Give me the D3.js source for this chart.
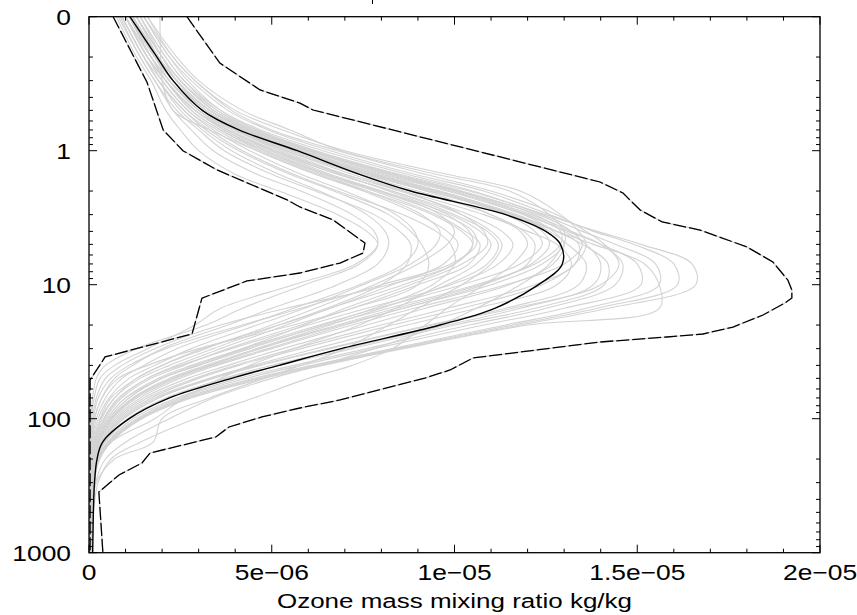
<!DOCTYPE html>
<html>
<head>
<meta charset="utf-8">
<script src="https://cdn.jsdelivr.net/npm/d3@7"></script>
<style>
  html, body { margin: 0; padding: 0; background: #fff; }
  svg { display: block; }
  text { font-family: "Liberation Sans", Arial, Helvetica, sans-serif; fill: #000; }
</style>
</head>
<body>
<svg id="chart" width="857" height="615"></svg>
<script>
// Ozone mass mixing ratio profiles vs pressure (hPa), values in units of 1e-6 kg/kg
const UNIT = 1e-6;

const levels = [0.1, 0.2, 0.3, 0.5, 0.7, 1, 1.5, 2, 3, 4, 5, 7, 10, 15, 20, 30, 40, 50, 70, 100, 150, 200, 300, 500, 700, 1000];

// ensemble mean
const meanProfile = [1.12, 1.86, 2.3, 3.1, 4.1, 5.7, 7.4, 8.8, 11.4, 12.5, 12.9, 12.95, 12.3, 11.1, 9.6, 6.9, 5.2, 3.9, 2.2, 1.1, 0.37, 0.22, 0.15, 0.12, 0.11, 0.1];

// lower envelope
const minEnvP = [0.1, 0.31, 0.7, 1.0, 1.39, 2.33, 2.63, 3.29, 4.89, 5.8, 6.89, 8.18, 9.38, 12.6, 23.3, 34.6, 51.4, 1000];
const minEnvX = [0.66, 1.59, 2.03, 2.57, 3.5, 5.42, 5.77, 6.68, 7.55, 7.5, 6.87, 5.77, 4.32, 3.09, 2.82, 0.44, 0.03, 0.03];

// upper envelope
const maxEnvP = [0.1, 0.222, 0.352, 0.441, 0.497, 1.712, 2.069, 2.333, 2.77, 3.4, 3.91, 5.23, 6.77, 9.22, 10.95, 12.57, 13.7, 16.83, 20.69, 23.33, 24.57, 26.77, 35.2, 43.3, 49.7, 72.5, 83.2, 97.1, 115.3, 137, 180.3, 214, 263, 352, 1000];
const maxEnvX = [2.68, 3.58, 4.68, 5.77, 6.13, 13.98, 14.61, 14.8, 15.08, 15.68, 16.72, 18.0, 18.71, 19.12, 19.23, 19.23, 19.04, 18.44, 17.62, 16.8, 15.81, 13.98, 10.51, 9.88, 9.19, 6.87, 5.77, 4.73, 3.83, 3.47, 1.67, 1.45, 0.82, 0.27, 0.38];

// individual ensemble members
const memberProfiles = [
  [0.9,1.5,1.9,2.5,3.1,3.9,5.2,6.3,7.6,8.1,8.2,7.9,6.8,5.0,3.8,2.0,1.2,0.7,0.35,0.15,0.07,0.05,0.04,0.04,0.04,0.04],
  [1.0,1.6,2.0,2.7,3.4,4.4,5.8,7.0,8.4,8.9,9.0,8.6,7.4,5.6,4.3,2.4,1.5,0.9,0.45,0.2,0.09,0.06,0.05,0.04,0.04,0.04],
  [1.1,1.7,2.1,2.8,3.6,4.7,6.3,7.6,9.1,9.6,9.5,8.8,7.5,5.9,4.6,2.8,1.8,1.1,0.55,0.25,0.1,0.07,0.05,0.05,0.05,0.05],
  [1.2,1.8,2.2,3.0,3.8,5.0,6.6,8.0,9.6,10.0,9.8,9.0,7.8,6.2,5.0,3.2,2.0,1.3,0.6,0.3,0.12,0.08,0.06,0.05,0.05,0.05],
  [0.8,1.4,1.8,2.4,3.0,3.7,5.0,6.2,7.8,8.5,8.8,8.7,8.0,6.5,5.2,3.4,2.2,1.4,0.7,0.32,0.13,0.08,0.06,0.05,0.05,0.05],
  [1.3,1.9,2.3,3.1,4.0,5.2,6.9,8.2,9.8,10.4,10.5,10.0,8.6,6.6,5.4,3.6,2.4,1.6,0.8,0.4,0.15,0.09,0.06,0.05,0.05,0.05],
  [1.0,1.6,2.1,2.9,3.7,4.8,6.4,7.8,9.5,10.3,10.7,10.4,9.0,7.2,5.8,3.8,2.6,1.7,0.9,0.45,0.18,0.1,0.07,0.05,0.05,0.05],
  [1.4,2.0,2.4,3.2,4.1,5.4,7.2,8.6,10.2,10.8,10.9,10.2,8.8,7.0,5.9,4.2,2.9,2.0,1.0,0.5,0.2,0.1,0.07,0.06,0.06,0.06],
  [0.9,1.5,1.9,2.6,3.3,4.2,5.6,6.8,8.6,9.5,9.9,10.0,9.4,7.8,6.4,4.4,3.0,2.0,1.1,0.55,0.22,0.11,0.07,0.06,0.06,0.06],
  [1.1,1.7,2.2,3.0,3.9,5.1,6.8,8.3,10.0,10.9,11.2,10.9,9.8,8.0,6.6,4.6,3.3,2.3,1.2,0.6,0.25,0.12,0.08,0.06,0.06,0.06],
  [1.94,1.96,2.0,2.3,3.3,4.6,6.2,7.5,9.0,9.8,10.1,9.7,8.3,6.6,5.2,3.1,2.0,1.3,0.7,0.35,0.15,0.09,0.06,0.05,0.05,0.05],
  [1.2,1.8,2.3,3.1,4.0,5.3,7.0,8.5,10.4,11.3,11.6,11.2,9.9,7.6,6.0,3.9,2.5,1.6,0.85,0.42,0.17,0.1,0.07,0.06,0.06,0.06],
  [1.0,1.7,2.2,3.0,4.0,5.4,7.4,9.0,11.0,11.9,12.2,12.0,10.8,8.6,7.0,4.9,3.4,2.4,1.3,0.65,0.27,0.14,0.09,0.07,0.06,0.06],
  [1.2,1.9,2.4,3.3,4.3,5.8,7.8,9.5,11.5,12.4,12.6,12.1,10.7,8.4,6.8,4.6,3.2,2.2,1.2,0.6,0.25,0.13,0.08,0.07,0.06,0.06],
  [1.3,2.0,2.5,3.4,4.4,6.0,8.1,9.9,11.9,12.7,13.0,12.7,11.5,9.2,7.6,5.3,3.8,2.7,1.5,0.75,0.3,0.15,0.1,0.07,0.07,0.07],
  [1.1,1.8,2.3,3.2,4.2,5.6,7.6,9.3,11.6,12.8,13.4,13.3,12.2,9.8,8.0,5.6,4.0,2.9,1.6,0.8,0.33,0.16,0.1,0.08,0.07,0.07],
  [1.5,2.2,2.7,3.6,4.6,6.2,8.4,10.2,12.2,12.9,12.9,12.2,10.6,8.2,6.5,4.3,3.0,2.0,1.1,0.55,0.22,0.12,0.08,0.06,0.06,0.06],
  [1.0,1.6,2.1,2.9,3.8,5.1,7.0,8.6,10.8,12.0,12.8,13.2,12.8,10.6,8.7,6.2,4.5,3.3,1.9,0.95,0.38,0.18,0.11,0.08,0.07,0.07],
  [1.4,2.1,2.6,3.5,4.5,6.1,8.3,10.1,12.3,13.2,13.5,13.0,11.4,8.9,7.2,5.0,3.5,2.5,1.4,0.7,0.28,0.14,0.09,0.07,0.06,0.06],
  [1.2,1.9,2.4,3.3,4.3,5.7,7.7,9.4,11.4,12.2,12.4,11.8,10.2,7.9,6.3,4.2,2.8,1.9,1.0,0.5,0.2,0.11,0.08,0.06,0.06,0.06],
  [1.1,1.8,2.3,3.2,4.2,5.7,7.8,9.6,11.7,12.8,13.5,14.2,14.1,12.2,10.0,7.2,5.2,3.8,2.2,1.1,0.45,0.22,0.12,0.08,0.07,0.07],
  [1.3,2.0,2.5,3.4,4.5,6.1,8.3,10.1,12.1,13.2,14.0,14.6,14.4,12.5,10.4,7.6,5.6,4.1,2.4,1.2,0.5,0.24,0.13,0.09,0.08,0.08],
  [1.2,1.9,2.4,3.3,4.3,5.8,8.0,9.8,11.9,13.1,14.0,15.0,15.1,13.0,10.8,7.8,5.8,4.3,2.5,1.3,0.52,0.25,0.13,0.09,0.08,0.08],
  [1.4,2.1,2.6,3.6,4.7,6.4,8.7,10.5,12.4,13.5,14.4,15.5,15.6,13.6,11.4,8.3,6.1,4.5,2.6,1.35,0.55,0.26,0.14,0.1,0.09,0.09],
  [1.0,1.7,2.2,3.1,4.1,5.5,7.5,9.3,11.5,12.8,13.8,15.2,15.6,15.6,12.0,8.6,6.4,4.8,2.8,1.45,0.6,0.28,0.15,0.1,0.09,0.09],
  [1.5,2.2,2.8,3.8,4.9,6.6,8.9,10.8,12.6,13.8,14.9,16.0,16.1,13.9,11.6,8.4,6.2,4.6,2.7,1.4,0.56,0.27,0.14,0.1,0.09,0.09],
  [1.3,2.0,2.5,3.5,4.6,6.2,8.5,10.4,12.5,13.9,15.1,16.5,16.6,14.2,11.8,8.5,6.3,4.7,2.7,1.4,0.57,0.27,0.14,0.1,0.09,0.09],
  [1.2,1.9,2.4,3.3,4.4,6.0,8.2,10.0,12.0,13.0,13.6,14.0,13.8,11.8,9.8,7.0,5.0,3.7,2.1,1.05,0.42,0.21,0.11,0.08,0.07,0.07],
  [1.6,2.3,2.9,3.9,5.0,6.8,9.2,11.0,12.8,13.6,14.1,14.5,14.0,11.6,9.4,6.6,4.7,3.4,1.9,0.95,0.38,0.19,0.1,0.08,0.07,0.07],
  [1.1,1.8,2.3,3.2,4.2,5.6,7.7,9.5,11.6,12.6,13.1,13.6,13.4,11.4,9.3,6.5,4.6,3.3,1.8,0.9,0.36,0.18,0.1,0.07,0.07,0.07],
  [1.2,1.9,2.4,3.3,4.3,5.7,7.6,9.2,11.0,11.8,12.0,11.6,10.8,9.8,9.2,8.3,7.2,6.0,4.5,2.9,1.4,0.6,0.25,0.12,0.1,0.1],
  [1.0,1.6,2.1,2.9,3.8,5.0,6.8,8.3,10.2,11.0,11.3,11.0,10.2,9.0,8.2,7.0,5.8,4.8,3.3,2.0,1.75,0.7,0.2,0.1,0.09,0.09],
  [1.3,2.0,2.5,3.4,4.4,5.9,7.9,9.6,11.6,12.5,12.9,12.6,11.8,10.6,9.6,7.8,6.3,5.0,3.4,2.2,1.0,0.45,0.18,0.1,0.09,0.09],
  [0.75,1.3,1.7,2.1,2.5,3.0,4.0,5.2,6.8,7.6,7.9,7.4,5.9,4.2,3.2,1.3,0.45,0.2,0.1,0.05,0.03,0.03,0.03,0.03,0.03,0.03],
  [0.85,1.4,1.8,2.3,2.8,3.4,4.6,5.8,7.2,7.8,7.9,7.3,5.6,3.6,2.9,1.6,0.7,0.3,0.14,0.07,0.04,0.03,0.03,0.03,0.03,0.03],
  [0.9,1.5,2.0,2.7,3.5,4.6,6.2,7.6,9.4,10.2,10.5,10.0,8.2,5.4,3.6,1.8,0.9,0.45,0.2,0.1,0.05,0.04,0.03,0.03,0.03,0.03],
  [1.1,1.7,2.1,2.9,3.7,4.9,6.5,7.9,9.7,10.5,10.6,9.9,8.0,5.8,4.2,2.1,1.1,0.6,0.25,0.12,0.06,0.04,0.04,0.04,0.04,0.04],
  [1.5,2.3,2.9,4.0,5.3,7.0,9.8,11.8,12.9,13.4,13.6,13.3,12.4,10.2,8.3,5.8,4.1,3.0,1.7,0.85,0.34,0.17,0.1,0.07,0.07,0.07],
  [1.6,2.4,3.0,4.2,5.5,6.9,9.5,11.5,12.6,13.0,13.0,12.4,11.0,8.6,6.9,4.7,3.3,2.3,1.25,0.62,0.25,0.13,0.08,0.06,0.06,0.06],
  [1.0,1.6,2.1,2.8,3.6,4.8,6.5,8.0,9.9,10.7,11.0,10.6,9.6,8.4,7.4,5.6,4.4,3.6,2.6,1.8,0.6,0.3,0.12,0.08,0.07,0.07],
  [0.9,1.5,1.9,2.6,3.2,4.1,5.5,6.7,8.2,8.8,9.1,9.3,9.0,7.2,5.6,3.0,1.6,0.8,0.35,0.15,0.07,0.05,0.04,0.04,0.04,0.04]
];

// axis ticks
const xTickValues = [0, 5e-6, 1e-5, 1.5e-5, 2e-5];
const xTickLabels = ["0", "5e\u221206", "1e\u221205", "1.5e\u221205", "2e\u221205"];
const yTickValues = [0.1, 1, 10, 100, 1000];
const yTickLabels = ["0", "1", "10", "100", "1000"];
const xTitle = "Ozone mass mixing ratio kg/kg";

const svg = d3.select("#chart");
const plot = { left: 89, right: 820, top: 16.7, bottom: 552.7 };

const x = d3.scaleLinear().domain([0, 2e-5]).range([plot.left, plot.right]);
const y = d3.scaleLog().domain([0.1, 1000]).range([plot.top, plot.bottom]);

svg.append("defs").append("clipPath").attr("id", "plotclip")
  .append("rect")
  .attr("x", plot.left).attr("y", plot.top)
  .attr("width", plot.right - plot.left).attr("height", plot.bottom - plot.top);

const smooth = d3.line()
  .x(d => x(d[0] * UNIT))
  .y(d => y(d[1]))
  .curve(d3.curveCatmullRom.alpha(0.5));

const straight = d3.line()
  .x(d => x(d[0] * UNIT))
  .y(d => y(d[1]));

const g = svg.append("g").attr("clip-path", "url(#plotclip)");

// members
g.selectAll("path.member")
  .data(memberProfiles)
  .join("path")
  .attr("class", "member")
  .attr("d", prof => smooth(prof.map((v, i) => [v, levels[i]])))
  .attr("fill", "none")
  .attr("stroke", "#d3d3d3")
  .attr("stroke-width", 1.1);

// envelopes: light base with black dashes on top
const envelopes = [
  minEnvX.map((v, i) => [v, minEnvP[i]]),
  maxEnvX.map((v, i) => [v, maxEnvP[i]])
];
g.selectAll("path.envbase")
  .data(envelopes)
  .join("path")
  .attr("class", "envbase")
  .attr("d", straight)
  .attr("fill", "none")
  .attr("stroke", "#d0d0d0")
  .attr("stroke-width", 1.2);
g.selectAll("path.env")
  .data(envelopes)
  .join("path")
  .attr("class", "env")
  .attr("d", straight)
  .attr("fill", "none")
  .attr("stroke", "#000")
  .attr("stroke-width", 1.3)
  .attr("stroke-dasharray", "13,3");

// mean
g.append("path")
  .attr("d", smooth(meanProfile.map((v, i) => [v, levels[i]])))
  .attr("fill", "none")
  .attr("stroke", "#000")
  .attr("stroke-width", 1.4);

// frame
svg.append("rect")
  .attr("x", plot.left).attr("y", plot.top)
  .attr("width", plot.right - plot.left).attr("height", plot.bottom - plot.top)
  .attr("fill", "none").attr("stroke", "#000").attr("stroke-width", 1.3);

// tick marks (inward, mirrored on all sides)
const MAJOR = 8, MINOR = 4;
const xMinor = d3.range(0, 21).map(k => k * 1e-6);
const ticks = svg.append("g").attr("stroke", "#000").attr("stroke-width", 1);
xMinor.forEach(v => {
  const len = xTickValues.some(t => Math.abs(t - v) < 1e-9) ? MAJOR : MINOR;
  ticks.append("line").attr("x1", x(v)).attr("x2", x(v)).attr("y1", plot.bottom).attr("y2", plot.bottom - len);
  ticks.append("line").attr("x1", x(v)).attr("x2", x(v)).attr("y1", plot.top).attr("y2", plot.top + len);
});
const yMinor = [];
[0.1, 1, 10, 100].forEach(d => { for (let k = 2; k <= 9; k++) yMinor.push(d * k); });
yMinor.forEach(v => {
  ticks.append("line").attr("x1", plot.left).attr("x2", plot.left + MINOR).attr("y1", y(v)).attr("y2", y(v));
  ticks.append("line").attr("x1", plot.right).attr("x2", plot.right - MINOR).attr("y1", y(v)).attr("y2", y(v));
});
yTickValues.forEach(v => {
  ticks.append("line").attr("x1", plot.left).attr("x2", plot.left + MAJOR).attr("y1", y(v)).attr("y2", y(v));
  ticks.append("line").attr("x1", plot.right).attr("x2", plot.right - MAJOR).attr("y1", y(v)).attr("y2", y(v));
});

// tick labels
const LABEL_STRETCH = 1.2;
svg.append("g").selectAll("text")
  .data(yTickValues)
  .join("text")
  .attr("transform", (d) => `translate(71,${y(d) + 7.8}) scale(${LABEL_STRETCH},1)`)
  .attr("text-anchor", "end")
  .attr("font-size", 22)
  .text((d, i) => yTickLabels[i]);

svg.append("g").selectAll("text")
  .data(xTickValues)
  .join("text")
  .attr("transform", (d) => `translate(${x(d)},580) scale(${LABEL_STRETCH},1)`)
  .attr("text-anchor", "middle")
  .attr("font-size", 22)
  .text((d, i) => xTickLabels[i]);

// axis title
svg.append("text")
  .attr("x", 454.5).attr("y", 608)
  .attr("text-anchor", "middle")
  .attr("font-size", 20)
  .attr("textLength", 355)
  .attr("lengthAdjust", "spacingAndGlyphs")
  .text(xTitle);

// stray stroke above the frame
svg.append("line")
  .attr("x1", 372.5).attr("x2", 372.5).attr("y1", 0).attr("y2", 4)
  .attr("stroke", "#000").attr("stroke-width", 1);
</script>
</body>
</html>
